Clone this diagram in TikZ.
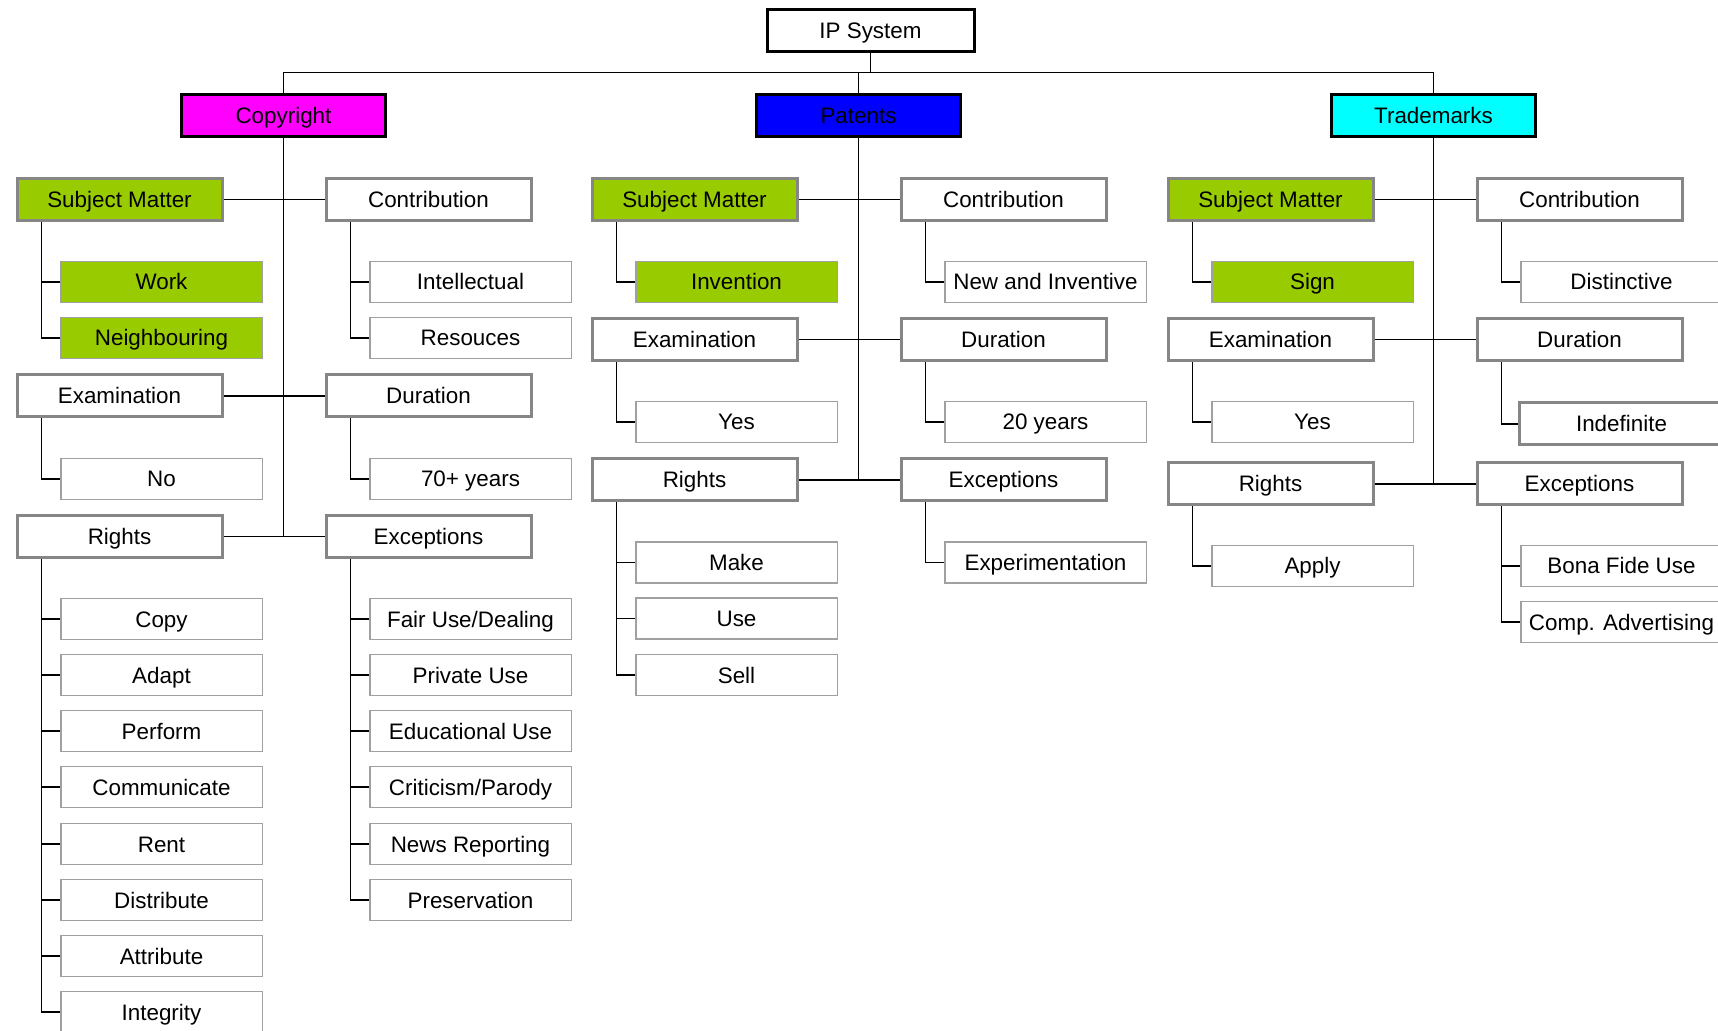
\documentclass[tikz,border=0pt]{standalone}
\usepackage{fontspec}
\setmainfont{Liberation Sans}
\usepackage{tikz}
\definecolor{matter}{HTML}{99CC00}
\definecolor{framegray}{HTML}{868686}
\definecolor{leafgray}{HTML}{A0A0A0}
\definecolor{copyfill}{HTML}{FF00FF}
\definecolor{patentfill}{HTML}{0000FF}
\definecolor{markfill}{HTML}{00FFFF}

\begin{document}
\begin{tikzpicture}[
    x=0.5pt, y=-0.5pt,
    every node/.style={font=\fontsize{11.2}{13.4}\selectfont, text height=8pt, text depth=0pt},
    head/.style={rectangle, draw=black, line width=1.5pt, minimum width=102pt, minimum height=21pt, inner sep=1pt},
    group/.style={rectangle, draw=framegray, line width=1.5pt, minimum width=102.5pt, minimum height=21pt, inner sep=1pt},
    leaf/.style={rectangle, draw=leafgray, line width=0.75pt, minimum width=100.75pt, minimum height=20.5pt, inner sep=1pt},
    matterbox/.style={fill=matter},
    link/.style={line width=0.8pt}
]

\useasboundingbox (0, 0) rectangle (1718, 1031);
\clip (0, 0) rectangle (1718, 1031);

\node[head, minimum width=103.5pt] (ip) at (870.5, 30.5) {IP System};
\node[head, fill=copyfill] (copyright) at (283.5, 115.5) {Copyright};
\node[head, fill=patentfill] (patents) at (858.5, 115.5) {Patents};
\node[head, fill=markfill] (trademarks) at (1433.5, 115.5) {Trademarks};

\node[group, matterbox] (csubj) at (119.5, 199.5) {Subject Matter};
\node[group] (ccontrib) at (428.5, 199.5) {Contribution};
\node[leaf, matterbox] (cwork) at (161.5, 282) {Work};
\node[leaf, matterbox] (cneigh) at (161.5, 338) {Neighbouring};
\node[leaf] (cintel) at (470.5, 282) {Intellectual};
\node[leaf] (cres) at (470.5, 338) {Resouces};
\node[group] (cexam) at (119.5, 396) {Examination};
\node[group] (cdur) at (428.5, 396) {Duration};
\node[leaf] (cno) at (161.5, 479) {No};
\node[leaf] (cyears) at (470.5, 479) {70+ years};
\node[group] (crights) at (119.5, 536.5) {Rights};
\node[group] (cexcept) at (428.5, 536.5) {Exceptions};
\node[leaf] (ccopy) at (161.5, 619) {Copy};
\node[leaf] (cadapt) at (161.5, 675) {Adapt};
\node[leaf] (cperform) at (161.5, 731) {Perform};
\node[leaf] (ccomm) at (161.5, 787) {Communicate};
\node[leaf] (crent) at (161.5, 844) {Rent};
\node[leaf] (cdist) at (161.5, 900) {Distribute};
\node[leaf] (cattr) at (161.5, 956) {Attribute};
\node[leaf] (cinteg) at (161.5, 1012) {Integrity};
\node[leaf] (cfair) at (470.5, 619) {Fair Use/Dealing};
\node[leaf] (cprivate) at (470.5, 675) {Private Use};
\node[leaf] (ceduc) at (470.5, 731) {Educational Use};
\node[leaf] (ccrit) at (470.5, 787) {Criticism/Parody};
\node[leaf] (cnews) at (470.5, 844) {News Reporting};
\node[leaf] (cpres) at (470.5, 900) {Preservation};

\node[group, matterbox] (psubj) at (694.5, 199.5) {Subject Matter};
\node[group] (pcontrib) at (1003.5, 199.5) {Contribution};
\node[leaf, matterbox] (pinvent) at (736.5, 282) {Invention};
\node[leaf] (pnew) at (1045.5, 282) {New and Inventive};
\node[group] (pexam) at (694.5, 339.5) {Examination};
\node[group] (pdur) at (1003.5, 339.5) {Duration};
\node[leaf] (pyes) at (736.5, 422) {Yes};
\node[leaf] (pyears) at (1045.5, 422) {20 years};
\node[group] (prights) at (694.5, 480) {Rights};
\node[group] (pexcept) at (1003.5, 480) {Exceptions};
\node[leaf] (pmake) at (736.5, 562.5) {Make};
\node[leaf] (puse) at (736.5, 618.5) {Use};
\node[leaf] (psell) at (736.5, 675) {Sell};
\node[leaf] (pexper) at (1045.5, 562.5) {Experimentation};

\node[group, matterbox] (tsubj) at (1270.5, 199.5) {Subject Matter};
\node[group] (tcontrib) at (1579.5, 199.5) {Contribution};
\node[leaf, matterbox] (tsign) at (1312.5, 282) {Sign};
\node[leaf] (tdist) at (1621.5, 282) {Distinctive};
\node[group] (texam) at (1270.5, 339.5) {Examination};
\node[group] (tdur) at (1579.5, 339.5) {Duration};
\node[leaf] (tyes) at (1312.5, 422) {Yes};
\node[group] (tindef) at (1621.5, 424) {Indefinite};
\node[group] (trights) at (1270.5, 484) {Rights};
\node[group] (texcept) at (1579.5, 484) {Exceptions};
\node[leaf] (tapply) at (1312.5, 566) {Apply};
\node[leaf] (tbona) at (1621.5, 566) {Bona Fide Use};
\node[leaf] (tcomp) at (1621.5, 622) {Comp. Advertising};

\coordinate (bus) at (870.5, 72.5);
\draw[link] (ip) -- (bus);
\draw[link] (copyright) |- (bus) -| (trademarks);
\draw[link] (patents) -- (patents |- bus);

\draw[link] (copyright) -- (copyright |- crights);
\draw[link] (csubj) -- (ccontrib);
\draw[link] (cexam) -- (cdur);
\draw[link] (crights) -- (cexcept);
\draw[link] ([xshift=13pt]csubj.south west) |- (cwork.west);
\draw[link] ([xshift=13pt]csubj.south west) |- (cneigh.west);
\draw[link] ([xshift=13pt]ccontrib.south west) |- (cintel.west);
\draw[link] ([xshift=13pt]ccontrib.south west) |- (cres.west);
\draw[link] ([xshift=13pt]cexam.south west) |- (cno.west);
\draw[link] ([xshift=13pt]cdur.south west) |- (cyears.west);
\draw[link] ([xshift=13pt]crights.south west) |- (ccopy.west);
\draw[link] ([xshift=13pt]crights.south west) |- (cadapt.west);
\draw[link] ([xshift=13pt]crights.south west) |- (cperform.west);
\draw[link] ([xshift=13pt]crights.south west) |- (ccomm.west);
\draw[link] ([xshift=13pt]crights.south west) |- (crent.west);
\draw[link] ([xshift=13pt]crights.south west) |- (cdist.west);
\draw[link] ([xshift=13pt]crights.south west) |- (cattr.west);
\draw[link] ([xshift=13pt]crights.south west) |- (cinteg.west);
\draw[link] ([xshift=13pt]cexcept.south west) |- (cfair.west);
\draw[link] ([xshift=13pt]cexcept.south west) |- (cprivate.west);
\draw[link] ([xshift=13pt]cexcept.south west) |- (ceduc.west);
\draw[link] ([xshift=13pt]cexcept.south west) |- (ccrit.west);
\draw[link] ([xshift=13pt]cexcept.south west) |- (cnews.west);
\draw[link] ([xshift=13pt]cexcept.south west) |- (cpres.west);

\draw[link] (patents) -- (patents |- prights);
\draw[link] (psubj) -- (pcontrib);
\draw[link] (pexam) -- (pdur);
\draw[link] (prights) -- (pexcept);
\draw[link] ([xshift=13pt]psubj.south west) |- (pinvent.west);
\draw[link] ([xshift=13pt]pcontrib.south west) |- (pnew.west);
\draw[link] ([xshift=13pt]pexam.south west) |- (pyes.west);
\draw[link] ([xshift=13pt]pdur.south west) |- (pyears.west);
\draw[link] ([xshift=13pt]prights.south west) |- (pmake.west);
\draw[link] ([xshift=13pt]prights.south west) |- (puse.west);
\draw[link] ([xshift=13pt]prights.south west) |- (psell.west);
\draw[link] ([xshift=13pt]pexcept.south west) |- (pexper.west);

\draw[link] (trademarks) -- (trademarks |- trights);
\draw[link] (tsubj) -- (tcontrib);
\draw[link] (texam) -- (tdur);
\draw[link] (trights) -- (texcept);
\draw[link] ([xshift=13pt]tsubj.south west) |- (tsign.west);
\draw[link] ([xshift=13pt]tcontrib.south west) |- (tdist.west);
\draw[link] ([xshift=13pt]texam.south west) |- (tyes.west);
\draw[link] ([xshift=13pt]tdur.south west) |- (tindef.west);
\draw[link] ([xshift=13pt]trights.south west) |- (tapply.west);
\draw[link] ([xshift=13pt]texcept.south west) |- (tbona.west);
\draw[link] ([xshift=13pt]texcept.south west) |- (tcomp.west);

\end{tikzpicture}
\end{document}
